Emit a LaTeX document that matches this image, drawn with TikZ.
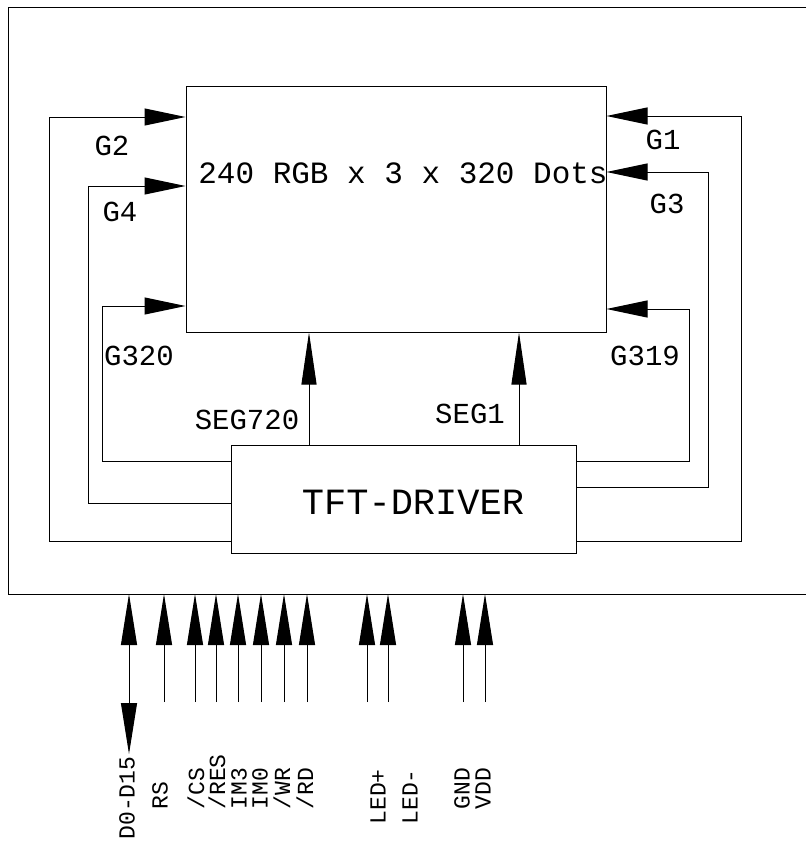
\documentclass[tikz,border=0pt]{standalone}
\usepackage{fontspec}
\setmainfont{Liberation Mono}
\usetikzlibrary{arrows.meta, positioning}

\begin{document}
\begin{tikzpicture}[x=1pt, y=-1pt, line width=1pt,
    lbl/.style={inner sep=0pt, font=\fontsize{29}{29}\selectfont},
    pinlbl/.style={inner sep=0pt, rotate=90, anchor=west, font=\fontsize{23}{23}\selectfont},
    gate/.style={-{Triangle[length=41pt, width=17pt]}},
    seg/.style={-{Triangle[length=52pt, width=15pt]}},
    pin/.style={-{Triangle[length=51pt, width=16pt]}}]
    \useasboundingbox (0,0) rectangle (806,843);

    % module outline
    \draw (806,8) -| (8,594) -- (806,594);
    \coordinate (edge) at (0,594);

    % panel and driver
    \node[draw, minimum width=420pt, minimum height=246pt] (lcd) at (396,209) {};
    \node[lbl, font=\fontsize{31}{31}\selectfont] (dots) at (403,173) {240 RGB x 3 x 320 Dots};
    \node[draw, minimum width=345pt, minimum height=108pt] (drv) at (403.5,499) {};
    \node[lbl, font=\fontsize{37}{37}\selectfont] (drvtxt) at (413,502) {TFT-DRIVER};

    % gate lines
    \draw[gate] (drv.west |- 0,541) -| (49,117) -- (lcd.west |- 0,117);
    \draw[gate] (drv.west |- 0,503) -| (88,186) -- (lcd.west |- 0,186);
    \draw[gate] (drv.west |- 0,461) -| (102,306) -- (lcd.west |- 0,306);
    \draw[gate] (drv.east |- 0,541) -| (741,116) -- (lcd.east |- 0,116);
    \draw[gate] (drv.east |- 0,487) -| (708,172) -- (lcd.east |- 0,172);
    \draw[gate] (drv.east |- 0,461) -| (689,309) -- (lcd.east |- 0,309);
    \node[lbl] (g2) at (112,146) {G2};
    \node[lbl] (g4) at (120,212) {G4};
    \node[lbl] (g320) at (139,356) {G320};
    \node[lbl] (g1) at (663,140) {G1};
    \node[lbl] (g3) at (667,204) {G3};
    \node[lbl] (g319) at (645,356) {G319};

    % segment lines
    \draw[seg] (drv.north -| 309,0) -- (lcd.south -| 309,0);
    \draw[seg] (drv.north -| 519,0) -- (lcd.south -| 519,0);
    \node[lbl] (seg720) at (247,420) {SEG720};
    \node[lbl] (seg1) at (470,414) {SEG1};

    % interface pins
    \draw[{Triangle[length=51pt, width=16pt]}-{Triangle[length=51pt, width=16pt]}]
        (129,754) -- (edge -| 129,0);
    \node[pinlbl] (pd) at (127,840) {D0-D15};
    \foreach \px/\lx/\ly/\name in {164/160/810/RS, 195/196/810/{/CS}, 216/217/810/{/RES},
        238/239/810/IM3, 261/260/810/IM0, 284/282/810/{/WR}, 307/305/810/{/RD},
        367/378/825/LED+, 388/410/825/LED-, 463/462/810/GND, 485/483/810/VDD} {
        \draw[pin] (\px,702) -- (edge -| \px,0);
        \node[pinlbl] (p\px) at (\lx,\ly) {\name};
    }
\end{tikzpicture}
\end{document}
